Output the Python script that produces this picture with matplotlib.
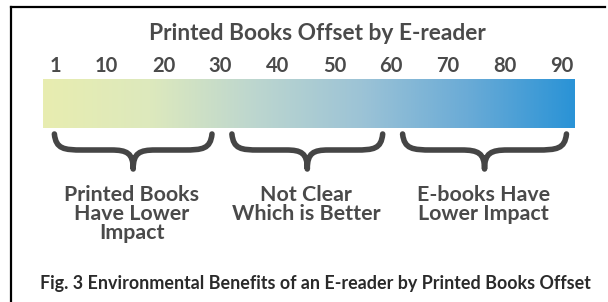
import matplotlib
matplotlib.use("Agg")
import matplotlib.pyplot as plt
import numpy as np
from matplotlib.colors import LinearSegmentedColormap
from matplotlib.path import Path
from matplotlib.patches import PathPatch
from matplotlib.lines import Line2D

# --------------------------------
# data
# --------------------------------
title = "Printed Books Offset by E-reader"
tick_values = [1, 10, 20, 30, 40, 50, 60, 70, 80, 90]
scale_range = [-1.2, 92.3]
region_bounds = [-1.2, 30, 60, 92.3]
region_labels = [
    "Printed Books\nHave Lower\nImpact",
    "Not Clear\nWhich is Better",
    "E-books Have\nLower Impact",
]
caption = "Fig. 3 Environmental Benefits of an E-reader by Printed Books Offset"

gradient_colors = ["#e8edb0", "#dde9bd", "#bcd6cf", "#9cc3d6", "#6aabd6", "#2a93d6"]

FONT = "Lato"
TEXT_GRAY = "#4a4a4a"

W, H = 608, 302
fig = plt.figure(figsize=(W / 100, H / 100), dpi=100)

# axes spans the bar horizontally, whole figure vertically (y in pixels, top=0)
ax = fig.add_axes([43 / W, 0, 532 / W, 1])
ax.set_xlim(*scale_range)
ax.set_ylim(H, 0)
ax.axis("off")

# gradient bar
cmap = LinearSegmentedColormap.from_list("offset", gradient_colors)
grad = np.linspace(0, 1, 256).reshape(1, -1)
ax.imshow(grad, cmap=cmap, aspect="auto",
          extent=[scale_range[0], scale_range[1], 128, 79], zorder=1)

# title + tick labels
ax.text(np.mean(scale_range) + 1.5, 34, title, ha="center", va="center",
        fontsize=16.4, fontweight="bold", color=TEXT_GRAY, family=FONT)
for v in tick_values:
    ax.text(v, 66, str(v), ha="center", va="center", fontsize=14.5,
            fontweight="bold", color=TEXT_GRAY, family=FONT)


def brace(a, b, y0=134, ym=150, ytip=169):
    w = b - a
    c = (a + b) / 2
    verts = [
        (a, y0),
        (a + 0.01 * w, ym - 1), (a + 0.06 * w, ym), (a + 0.18 * w, ym),
        (c - 0.14 * w, ym),
        (c - 0.04 * w, ym), (c, ym + 3), (c, ytip),
        (c, ym + 3), (c + 0.04 * w, ym), (c + 0.14 * w, ym),
        (b - 0.18 * w, ym),
        (b - 0.06 * w, ym), (b - 0.01 * w, ym - 1), (b, y0),
    ]
    codes = [Path.MOVETO,
             Path.CURVE4, Path.CURVE4, Path.CURVE4,
             Path.LINETO,
             Path.CURVE4, Path.CURVE4, Path.CURVE4,
             Path.CURVE4, Path.CURVE4, Path.CURVE4,
             Path.LINETO,
             Path.CURVE4, Path.CURVE4, Path.CURVE4]
    return PathPatch(Path(verts, codes), fill=False, lw=4.0,
                     edgecolor="#454545", capstyle="round", joinstyle="round")


# braces + region labels
for i, label in enumerate(region_labels):
    a, b = region_bounds[i], region_bounds[i + 1]
    ax.add_patch(brace(a + 2.0, b - 1.5))
    ax.text((a + b) / 2, 185, label, ha="center", va="top", fontsize=15.4,
            fontweight="bold", color=TEXT_GRAY, family=FONT, linespacing=0.95)

# caption
fig.text(315 / W, 1 - 283 / H, caption, ha="center", va="center",
         fontsize=12.9, fontweight="bold", color="#2a2a2a", family=FONT)

# frame (top + left edges)
fig.add_artist(Line2D([11 / W, 11 / W], [0, 1 - 7 / H], color="black", lw=1.6))
fig.add_artist(Line2D([11 / W, 605 / W], [1 - 7 / H, 1 - 7 / H], color="black", lw=1.6))

fig.savefig("out.png", dpi=100, facecolor="white")
